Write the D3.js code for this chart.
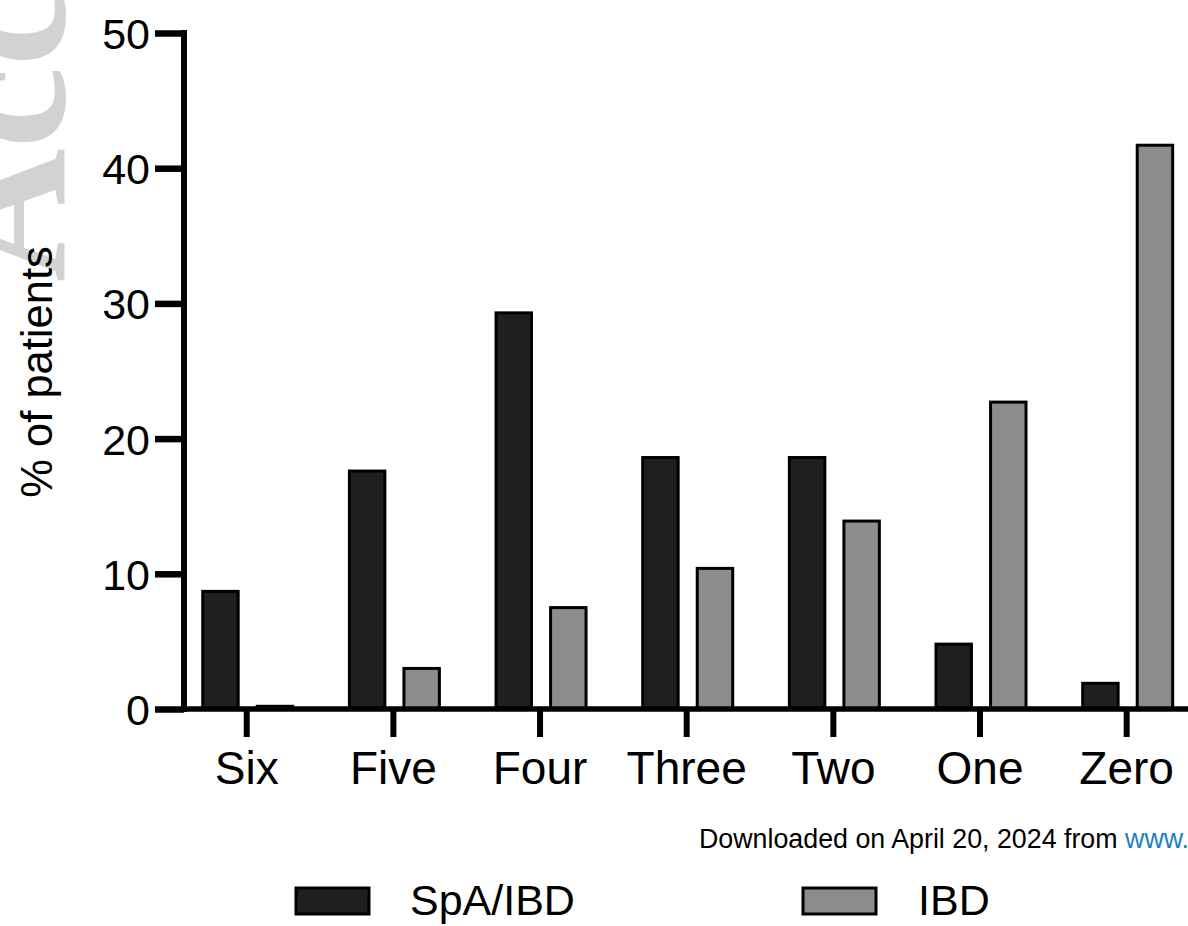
<!DOCTYPE html>
<html>
<head>
<meta charset="utf-8">
<script src="https://cdn.jsdelivr.net/npm/d3@7"></script>
<style>
  body { margin: 0; background: #fff; }
  svg { display: block; }
  text { font-family: Arial, "Liberation Sans", sans-serif; }
</style>
</head>
<body>
<script>
// categories and the two series (% of patients)
const categories = ["Six", "Five", "Four", "Three", "Two", "One", "Zero"];
const series = ["SpA/IBD", "IBD"];
const spaIbd = [8.7, 17.6, 29.3, 18.6, 18.6, 4.8, 1.9];
const ibd = [0.2, 3.0, 7.5, 10.4, 13.9, 22.7, 41.7];
const yTicks = [0, 10, 20, 30, 40, 50];
const colors = ["#1f1f1f", "#8c8c8c"];

const W = 1188, H = 926;
const svg = d3.select("body").append("svg")
    .attr("width", W)
    .attr("height", H);

// watermark
svg.append("text")
    .attr("transform", "translate(64,282) rotate(-90)")
    .style("font-family", "'Liberation Serif', 'DejaVu Serif', serif")
    .style("font-size", "185px")
    .style("font-weight", "bold")
    .attr("fill", "#d2d2d2")
    .text("Accepted");

const y = d3.scaleLinear().domain([0, 50]).range([709, 33]);
const x = d3.scaleBand().domain(categories).range([173.4, 1200]).padding(0);
const xs = d3.scaleBand().domain(series).range([-44, 46]).paddingInner(0.35);

const rows = categories.map((c, i) => ({ cat: c, vals: [spaIbd[i], ibd[i]] }));

// bars
const g = svg.selectAll("g.cat")
    .data(rows)
    .enter()
    .append("g")
    .attr("class", "cat")
    .attr("transform", d => `translate(${x(d.cat) + x.bandwidth() / 2},0)`);

g.selectAll("rect")
    .data(d => d.vals.map((v, j) => ({ s: series[j], v: v, j: j })))
    .enter()
    .append("rect")
    .attr("x", d => xs(d.s))
    .attr("width", xs.bandwidth())
    .attr("y", d => y(d.v))
    .attr("height", d => y(0) - y(d.v))
    .attr("fill", d => colors[d.j])
    .attr("stroke", "#000")
    .attr("stroke-width", 3);

// y axis
const yAxis = svg.append("g")
    .attr("transform", "translate(184,0)")
    .call(d3.axisLeft(y).tickValues(yTicks).tickSize(29).tickSizeOuter(0).tickPadding(5));
yAxis.select(".domain").attr("stroke-width", 6).attr("d", `M0,${y(50) - 3}V${y(0) + 3}`);
yAxis.selectAll(".tick line").attr("stroke-width", 6.5);
yAxis.selectAll(".tick text")
    .style("font-size", "43px")
    .attr("fill", "#000")
    .attr("dy", "0.36em");

// x axis
const xAxis = svg.append("g")
    .attr("transform", "translate(0,709)")
    .call(d3.axisBottom(x).tickSize(28).tickSizeOuter(0).tickPadding(14));
xAxis.select(".domain").attr("stroke-width", 5.5).attr("d", "M181,0H1188");
xAxis.selectAll(".tick line").attr("stroke-width", 6);
xAxis.selectAll(".tick text")
    .style("font-size", "46px")
    .attr("fill", "#000");

// y label
svg.append("text")
    .attr("transform", `translate(52,${(y(0) + y(50)) / 2 + 1}) rotate(-90)`)
    .attr("text-anchor", "middle")
    .style("font-size", "43.5px")
    .text("% of patients");

// download note
const note = svg.append("text")
    .attr("x", 699)
    .attr("y", 848)
    .style("font-size", "26.8px")
    .attr("fill", "#000");
note.append("tspan").text("Downloaded on April 20, 2024 from ");
note.append("tspan").attr("fill", "#1a7fc4").text("www.");

// legend
const legendX = [296, 803];
const leg = svg.selectAll("g.leg")
    .data(series)
    .enter()
    .append("g")
    .attr("class", "leg")
    .attr("transform", (d, i) => `translate(${legendX[i]},888)`);
leg.append("rect")
    .attr("width", 73)
    .attr("height", 26)
    .attr("fill", (d, i) => colors[i])
    .attr("stroke", "#000")
    .attr("stroke-width", 3);
leg.append("text")
    .attr("x", (d, i) => i === 0 ? 114 : 115)
    .attr("y", 27)
    .style("font-size", "43px")
    .text(d => d);
</script>
</body>
</html>
